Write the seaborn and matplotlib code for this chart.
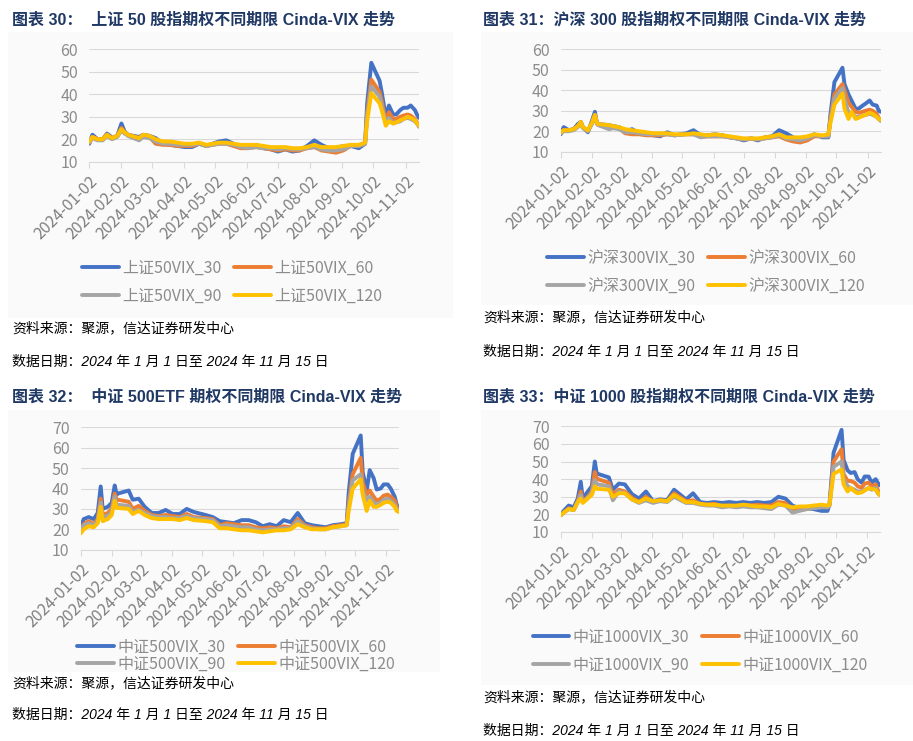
import matplotlib
matplotlib.use('Agg')
import matplotlib.pyplot as plt
from matplotlib.patches import Rectangle
import seaborn as sns
import pandas as pd

# sample dates (trading days) shared by all four panels
dates = ['2024-01-02', '2024-01-05', '2024-01-10', '2024-01-15', '2024-01-19', '2024-01-22', '2024-01-24',
         '2024-01-29', '2024-02-02', '2024-02-05', '2024-02-07', '2024-02-08', '2024-02-19', '2024-02-23',
         '2024-02-29', '2024-03-06', '2024-03-13', '2024-03-20', '2024-03-27', '2024-04-03', '2024-04-10',
         '2024-04-17', '2024-04-24', '2024-05-06', '2024-05-13', '2024-05-20', '2024-05-27', '2024-06-03',
         '2024-06-11', '2024-06-18', '2024-06-25', '2024-07-02', '2024-07-09', '2024-07-16', '2024-07-23',
         '2024-07-30', '2024-08-06', '2024-08-13', '2024-08-20', '2024-08-27', '2024-09-03', '2024-09-10',
         '2024-09-18', '2024-09-24', '2024-09-26', '2024-09-30', '2024-10-08', '2024-10-10', '2024-10-14',
         '2024-10-17', '2024-10-21', '2024-10-24', '2024-10-28', '2024-10-31', '2024-11-04', '2024-11-07',
         '2024-11-11', '2024-11-13', '2024-11-15']

tick_dates = ['2024-01-02', '2024-02-02', '2024-03-02', '2024-04-02', '2024-05-02', '2024-06-02',
              '2024-07-02', '2024-08-02', '2024-09-02', '2024-10-02', '2024-11-02']

# 上证50
sz50_30 = [18, 22, 20, 20, 22.5, 21.5, 20.5, 21.5, 27, 23.5, 22.5, 22, 21, 22, 21.5, 20.5, 18, 17.5, 17, 16.5,
           16.5, 18, 17, 19, 19.5, 18, 16.5, 16.5, 17.5, 16, 15.5, 14.5, 15.5, 14.5, 15, 17, 19.5, 17.5, 16, 16,
           17, 17, 16, 18, 36, 54, 46, 41, 30, 35, 31, 31, 33, 34, 34, 35, 33, 31, 29.5]
sz50_60 = [18.5, 21, 20, 20, 22, 21, 20.5, 21.5, 25, 23, 22.5, 22, 20.5, 21.5, 21, 18, 17.5, 17.5, 17, 17,
           17, 18, 17, 18, 18, 17, 16, 16, 16.5, 16, 15.5, 15, 15.5, 15, 15, 16, 16.5, 15, 14.5, 14,
           15, 17, 17, 18, 32, 46.5, 41, 37, 28, 32, 29, 29, 30, 30.5, 31, 30.5, 29, 27.5, 26]
sz50_90 = [18.5, 20.5, 19.5, 19.5, 21.5, 20.5, 20, 21, 24, 22.5, 22, 21.5, 19.5, 21, 20.5, 19, 18, 18, 17.5, 17.5,
           17.5, 18, 17, 18, 18, 17.5, 16.5, 16, 16.5, 16, 16, 15.5, 16, 15.5, 15.5, 16, 16.5, 15.5, 15, 15,
           15.5, 17, 17, 18, 30, 43.5, 39, 35, 27, 29.5, 27, 27.5, 28, 29, 29.5, 29, 28, 27, 25.5]
sz50_120 = [19, 21, 20, 20, 22, 21, 20.5, 21.5, 24.5, 23, 22.5, 22, 20.5, 22, 21.5, 20, 19, 19, 18.5, 18,
            18, 18.5, 17.5, 18.5, 18.5, 18, 17.5, 17.5, 17.5, 17, 16.5, 16.5, 16.5, 16, 16, 16.5, 17.5, 16.5, 16.5, 16.5,
            17, 17.5, 17.5, 18.5, 28, 40.5, 36, 33, 26, 28, 27, 27.5, 28.5, 29, 30, 29.5, 28.5, 27, 26]

# 沪深300
hs300_30 = [18.5, 22, 20.5, 21, 23.5, 24.5, 22, 19.5, 25, 29.5, 24, 23.5, 23, 22.5, 22, 20, 21, 19, 18.5, 18,
            17.5, 19.5, 18, 19, 20.5, 18, 18, 18.5, 18, 17, 16.5, 15.5, 16.5, 15.5, 17, 17.5, 20.5, 19, 17, 16,
            17, 18.5, 17, 17, 28, 44, 51, 43, 38, 35, 31, 31, 32.5, 33.5, 35, 33, 32.5, 30, 29.5]
hs300_60 = [19, 20.5, 20.5, 21, 22.5, 24.5, 22, 20, 24, 28, 24, 23.5, 22.5, 22, 21.5, 19, 18.5, 18.5, 18, 18,
            18, 18.5, 18, 18.5, 18.5, 17.5, 17.5, 17.5, 17.5, 17, 16.5, 16, 16.5, 16, 16.5, 17, 17.5, 16, 15, 14.5,
            15.5, 17.5, 17.5, 17.5, 26, 38, 43, 40, 34, 32, 29.5, 29, 29.5, 30, 30.5, 30, 28.5, 26.5, 25.5]
hs300_90 = [19, 20, 20, 20.5, 22, 24, 21.5, 20, 23.5, 27.5, 23.5, 23, 21, 21.5, 21, 19.5, 19.5, 19, 18.5, 18.5,
            18.5, 18.5, 18, 18.5, 18.5, 17, 17.5, 17.5, 17.5, 17, 16.5, 16, 16.5, 16, 16.5, 17, 18, 16.5, 16, 15.5,
            16.5, 18, 17.5, 17.5, 25, 36, 41, 36, 29, 29, 27, 27, 27.5, 28, 28.5, 28, 27, 26, 25]
hs300_120 = [19.5, 20.5, 20.5, 21, 22.5, 24.5, 22, 20.5, 24, 28, 24, 23.5, 23, 22.5, 22, 21, 20.5, 20, 19.5, 19,
             19, 19, 18.5, 18.5, 19, 18.5, 18, 18.5, 18, 17.5, 17, 16.5, 16.5, 16.5, 17, 17.5, 18.5, 17, 17, 17,
             17.5, 18.5, 18, 18.5, 24, 33, 38.5, 31, 26, 29.5, 26, 26.5, 27.5, 28, 29, 28.5, 27, 26, 25.5]

# 中证500
zz500_30 = [21, 25, 26, 25, 28, 41, 30, 31, 33, 41.5, 37, 37.5, 39, 34.5, 35, 31, 28, 28, 29.5, 27.5,
            27.5, 30, 28.5, 27, 26, 24, 23.5, 23, 24.5, 24.5, 23.5, 21.5, 22.5, 21.5, 24.5, 23.5, 28, 23, 22, 21.5,
            21, 22, 22.5, 23, 38, 57, 66, 48, 39, 49, 45, 39.5, 40, 42, 42, 40, 36, 32, 30.5]
zz500_60 = [19.5, 22.5, 24, 22.5, 25, 35, 27, 28, 30, 37.5, 34.5, 34.5, 33.5, 30, 31.5, 29, 27, 26.5, 27, 26.5,
            26, 27.5, 26, 25.5, 25, 22, 23, 22.5, 22, 22, 21, 20.5, 21, 20.5, 21.5, 21, 25, 22, 21, 20.5,
            20.5, 21.5, 22, 22.5, 33, 47, 55, 43, 37, 39, 36, 34, 35, 36.5, 37, 36, 34, 31, 29.5]
zz500_90 = [19, 22, 23, 22, 24, 33, 26, 26.5, 28.5, 36, 32, 32, 31.5, 28.5, 29.5, 28, 26.5, 26, 26, 25.5,
            25.5, 26.5, 25.5, 25, 24.5, 21.5, 22, 21.5, 21, 21, 20, 19.5, 20, 20, 20.5, 20.5, 24, 21.5, 20.5, 20,
            20, 21, 21.5, 22, 31, 44, 47, 39, 34, 36, 33, 32, 33, 34.5, 35, 34, 32, 30, 29]
zz500_120 = [18, 20, 21.5, 21, 23, 31, 24, 25, 27, 34, 30.5, 30.5, 30, 27.5, 29, 27, 25.5, 25, 25, 25,
             24.5, 25.5, 24.5, 24, 23.5, 20.5, 20.5, 20, 19.5, 19.5, 19, 18.5, 19, 19.5, 19.5, 20, 22.5, 21, 20, 20,
             20, 21, 21.5, 22, 29, 40, 44.5, 37, 29, 34, 31, 31, 32, 33, 33.5, 33, 31, 29, 28.5]

# 中证1000
zz1000_30 = [19.5, 22, 25, 24, 29, 38.5, 29, 33, 36, 50, 43, 43, 41, 34, 37.5, 37, 31.5, 29, 33, 27.5,
             28.5, 28, 34, 28.5, 32, 27, 26.5, 27, 26.5, 27, 26.5, 27, 26.5, 27, 26.5, 27, 30, 29, 25, 23.5,
             23.5, 23, 22, 22, 26, 55, 68, 51, 45, 43.5, 44, 40, 38, 41.5, 41.5, 38, 40, 38, 36.5]
zz1000_60 = [19.5, 21, 23.5, 22.5, 27.5, 33, 27.5, 30, 33, 44, 40, 40, 38, 31, 34, 33, 29.5, 27, 30, 27,
             28, 27.5, 32, 27.5, 28, 26, 25.5, 26, 24.5, 25, 24.5, 25.5, 25, 25.5, 25, 25, 27, 26.5, 22.5, 22.5,
             23, 24, 24.5, 24, 25.5, 50, 57, 43, 39, 39, 38, 36, 35, 37.5, 38, 36, 37, 34, 31.5]
zz1000_90 = [19.5, 21, 23, 22.5, 27, 31, 27, 29.5, 32, 39.5, 37, 37, 36, 28, 33, 32, 28.5, 26.5, 28, 26.5,
             27.5, 27, 30, 26.5, 26.5, 25.5, 25, 25, 24, 24.5, 24, 24.5, 24, 24, 23.5, 23, 25.5, 25, 21, 22,
             23, 23.5, 24, 24, 25, 47, 50, 40, 36, 35, 34, 33, 33, 34, 35, 34, 35, 32, 31]
zz1000_120 = [19.5, 21, 23, 22.5, 27, 29, 26.5, 29, 31, 36, 34.5, 34.5, 34, 30, 32, 32, 28.5, 27, 29, 27.5,
              28, 27.5, 31, 27, 27, 26, 25.5, 25.5, 25, 25, 25, 25.5, 25, 24.5, 24.5, 24, 26, 25, 24, 24.5,
              24.5, 25, 25.5, 25, 25.5, 43, 45.5, 37, 33, 35, 33, 32, 32.5, 33.5, 35, 34.5, 34, 32.5, 31]

W, H = 913, 741
palette = ['#4472C4', '#ED7D31', '#A5A5A5', '#FFC000']
source_text = '资料来源：聚源，信达证券研发中心'
date_text = '数据日期：2024 年 1 月 1 日至 2024 年 11 月 15 日'

sns.set_theme(style='white')
plt.rcParams['font.family'] = ['Noto Sans CJK SC', 'DejaVu Sans']
mixed = ['Liberation Sans', 'Noto Sans CJK SC']


def frect(l, t, r, b):
    return [l / W, 1 - b / H, (r - l) / W, (b - t) / H]


def draw_panel(fig, box, plot_box, title, title_xy, names, series, ymax, leg_xy, leg_gap, foot_x, foot_y):
    l, t, r, b = box
    fig.add_artist(Rectangle((l / W, 1 - b / H), (r - l) / W, (b - t) / H, transform=fig.transFigure,
                             facecolor='#FAFAFA', edgecolor='none', zorder=-5))
    fig.text(title_xy[0] / W, 1 - title_xy[1] / H, title, family=mixed, weight='bold',
             fontsize=11.5, color='#1F3864', va='center')

    ax = fig.add_axes(frect(*plot_box))
    ax.patch.set_alpha(0)
    df = pd.DataFrame({'date': pd.to_datetime(dates * 4),
                       'value': sum(series, []),
                       'name': [n for n in names for _ in dates]})
    sns.lineplot(data=df, x='date', y='value', hue='name', hue_order=names, palette=palette,
                 linewidth=2.8, estimator=None, legend=False, ax=ax)

    ax.set_xlim(pd.Timestamp('2024-01-02'), pd.Timestamp('2024-11-15'))
    ax.set_ylim(10, ymax)
    ax.set_yticks(range(10, ymax + 1, 10))
    ax.set_xticks(pd.to_datetime(tick_dates))
    ax.set_xticklabels(tick_dates, rotation=45, ha='right', rotation_mode='anchor')
    ax.set_xlabel('')
    ax.set_ylabel('')
    ax.grid(axis='y', color='#D9D9D9', linewidth=0.8)
    ax.grid(axis='x', visible=False)
    for s in ['top', 'right', 'left']:
        ax.spines[s].set_visible(False)
    ax.spines['bottom'].set_color('#D9D9D9')
    ax.spines['bottom'].set_linewidth(0.8)
    ax.tick_params(axis='y', length=0, pad=8, labelsize=11.5, labelcolor='#8C8C8C')
    ax.tick_params(axis='x', length=4, width=0.8, color='#D9D9D9', direction='out', bottom=True,
                   pad=4, labelsize=11.5, labelcolor='#7F7F7F')

    lines = ax.get_lines()
    ax.legend([lines[0], lines[2], lines[1], lines[3]], [names[0], names[2], names[1], names[3]],
              ncol=2, loc='center', bbox_to_anchor=(leg_xy[0] / W, 1 - leg_xy[1] / H),
              bbox_transform=fig.transFigure, frameon=False, fontsize=11.5, labelcolor='#8C8C8C',
              handlelength=2.3, handletextpad=0.2, columnspacing=0.8, labelspacing=leg_gap, borderpad=0)

    fig.text(foot_x / W, 1 - foot_y[0] / H, source_text, family=mixed, style='italic',
             fontsize=10, color='black', va='center')
    fig.text(foot_x / W, 1 - foot_y[1] / H, date_text, family=mixed, style='italic',
             fontsize=10, color='black', va='center')
    return ax


fig = plt.figure(figsize=(9.13, 7.41), dpi=100)
fig.patch.set_facecolor('white')

draw_panel(fig, (8, 32, 453, 318), (89.3, 49.3, 419, 161.7),
           '图表 30：  上证 50 股指期权不同期限 Cinda-VIX 走势', (12, 20),
           ['上证50VIX_30', '上证50VIX_60', '上证50VIX_90', '上证50VIX_120'],
           [sz50_30, sz50_60, sz50_90, sz50_120], 60, (232, 282), 0.7, 12, (328, 362))

draw_panel(fig, (481, 32, 913, 305), (560.7, 49.3, 880.7, 151.7),
           '图表 31：沪深 300 股指期权不同期限 Cinda-VIX 走势', (483, 20),
           ['沪深300VIX_30', '沪深300VIX_60', '沪深300VIX_90', '沪深300VIX_120'],
           [hs300_30, hs300_60, hs300_90, hs300_120], 60, (706, 272), 0.7, 483, (317, 352))

draw_panel(fig, (8, 410, 440, 672), (80.7, 427.3, 398.7, 549.7),
           '图表 32：  中证 500ETF 期权不同期限 Cinda-VIX 走势', (12, 397),
           ['中证500VIX_30', '中证500VIX_60', '中证500VIX_90', '中证500VIX_120'],
           [zz500_30, zz500_60, zz500_90, zz500_120], 70, (236, 655.5), 0.02, 12, (683, 715))

draw_panel(fig, (481, 410, 913, 685), (560.7, 426.3, 879.7, 532),
           '图表 33：中证 1000 股指期权不同期限 Cinda-VIX 走势', (483, 397),
           ['中证1000VIX_30', '中证1000VIX_60', '中证1000VIX_90', '中证1000VIX_120'],
           [zz1000_30, zz1000_60, zz1000_90, zz1000_120], 70, (700, 651), 0.7, 483, (697, 731))

fig.savefig('out.png', dpi=100, facecolor='white')
